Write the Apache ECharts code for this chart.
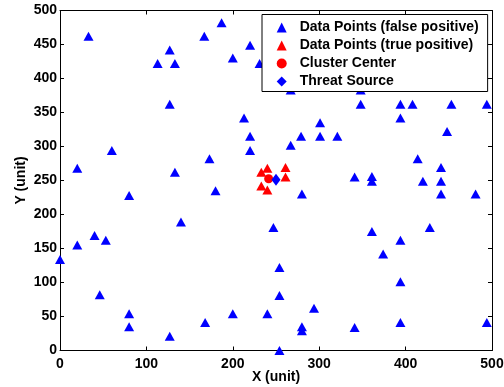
<!DOCTYPE html>
<html>
<head>
<meta charset="utf-8">
<script src="https://cdn.jsdelivr.net/npm/echarts@6/dist/echarts.min.js"></script>
<style>
  html, body { margin: 0; padding: 0; background: #fff; }
  #chart { width: 504px; height: 387px; }
</style>
</head>
<body>
<div id="chart"></div>
<script>
// values
const falsePositive = [
  [33, 462], [187, 482], [167, 462], [127, 442], [113, 422], [133, 422], [200, 430],
  [220, 449], [231, 422], [127, 362], [213, 342], [220, 315], [220, 294], [60, 294],
  [20, 268], [173, 282], [133, 262], [80, 228], [180, 235],
  [267, 383], [348, 383], [348, 362], [394, 362], [408, 362], [453, 362], [494, 362],
  [301, 335], [394, 342], [448, 322], [279, 315], [301, 315], [321, 315], [267, 302],
  [414, 282], [441, 269], [341, 255], [361, 256], [361, 249], [420, 249], [441, 249],
  [280, 230], [441, 230], [481, 230],
  [140, 189], [40, 169], [20, 155], [53, 162], [0, 134], [46, 82], [80, 54], [80, 35],
  [127, 21], [168, 41], [200, 54],
  [247, 181], [361, 175], [428, 181], [394, 162], [374, 142], [254, 122], [394, 101],
  [254, 81], [294, 62], [240, 54], [280, 35], [280, 29], [341, 34], [394, 41], [494, 41],
  [254, 0]
];
const truePositive = [[240, 268], [261, 269], [233, 262], [261, 255], [233, 242], [240, 236]];
const clusterCenter = [[241.5, 252.5]];
const threatSource = [[250, 251]];
const seriesNames = ['Data Points (false positive)', 'Data Points (true positive)', 'Cluster Center', 'Threat Source'];

const font = 'Liberation Sans, Arial, Helvetica, sans-serif';
const blue = '#0000ff';
const red = '#ff0000';

const chart = echarts.init(document.getElementById('chart'));

const baseAxis = {
  type: 'value',
  min: 0,
  max: 500,
  axisLine: { show: true, onZero: false, lineStyle: { color: '#000', width: 1 } },
  axisTick: { show: true, inside: true, length: 4, lineStyle: { color: '#000' } },
  splitLine: { show: false },
};

chart.setOption({
  animation: false,
  grid: { left: 60, right: 12, top: 10.5, bottom: 36.5, outerBoundsMode: 'none' },
  xAxis: [
    {
      ...baseAxis,
      position: 'bottom',
      interval: 100,
      name: 'X (unit)',
      nameLocation: 'middle',
      nameGap: 20,
      nameMoveOverlap: false,
      nameTextStyle: { color: '#000', fontFamily: font, fontWeight: 'bold', fontSize: 14 },
      axisLabel: { color: '#000', fontFamily: font, fontWeight: 'bold', fontSize: 14, margin: 7 },
    },
    { ...baseAxis, position: 'top', interval: 100, axisLabel: { show: false } },
  ],
  yAxis: [
    {
      ...baseAxis,
      position: 'left',
      interval: 50,
      name: 'Y (unit)',
      nameLocation: 'middle',
      nameGap: 32,
      nameMoveOverlap: false,
      nameTextStyle: { color: '#000', fontFamily: font, fontWeight: 'bold', fontSize: 14 },
      axisLabel: { color: '#000', fontFamily: font, fontWeight: 'bold', fontSize: 14, margin: 3 },
    },
    { ...baseAxis, position: 'right', interval: 50, axisLabel: { show: false } },
  ],
  legend: {
    orient: 'vertical',
    left: 262,
    top: 14.5,
    padding: [6, 9, 3, 14.7],
    itemWidth: 10,
    itemHeight: 10,
    itemGap: 4,
    backgroundColor: '#fff',
    borderColor: '#000',
    borderWidth: 1,
    borderRadius: 0,
    textStyle: { color: '#000', fontFamily: font, fontWeight: 'bold', fontSize: 14, padding: [0, 0, 0, 8] },
    data: seriesNames,
  },
  series: [
    {
      name: seriesNames[0],
      type: 'scatter',
      symbol: 'triangle',
      symbolSize: [10, 9],
      itemStyle: { color: blue, opacity: 1 },
      data: falsePositive,
      z: 2,
    },
    {
      name: seriesNames[1],
      type: 'scatter',
      symbol: 'triangle',
      symbolSize: [10, 9],
      itemStyle: { color: red, opacity: 1 },
      data: truePositive,
      z: 3,
    },
    {
      name: seriesNames[2],
      type: 'scatter',
      symbol: 'circle',
      symbolSize: 9,
      itemStyle: { color: red, opacity: 1 },
      data: clusterCenter,
      z: 4,
    },
    {
      name: seriesNames[3],
      type: 'scatter',
      symbol: 'diamond',
      symbolSize: [9, 12],
      itemStyle: { color: blue, opacity: 1 },
      data: threatSource,
      z: 5,
    },
  ],
});
</script>
</body>
</html>
